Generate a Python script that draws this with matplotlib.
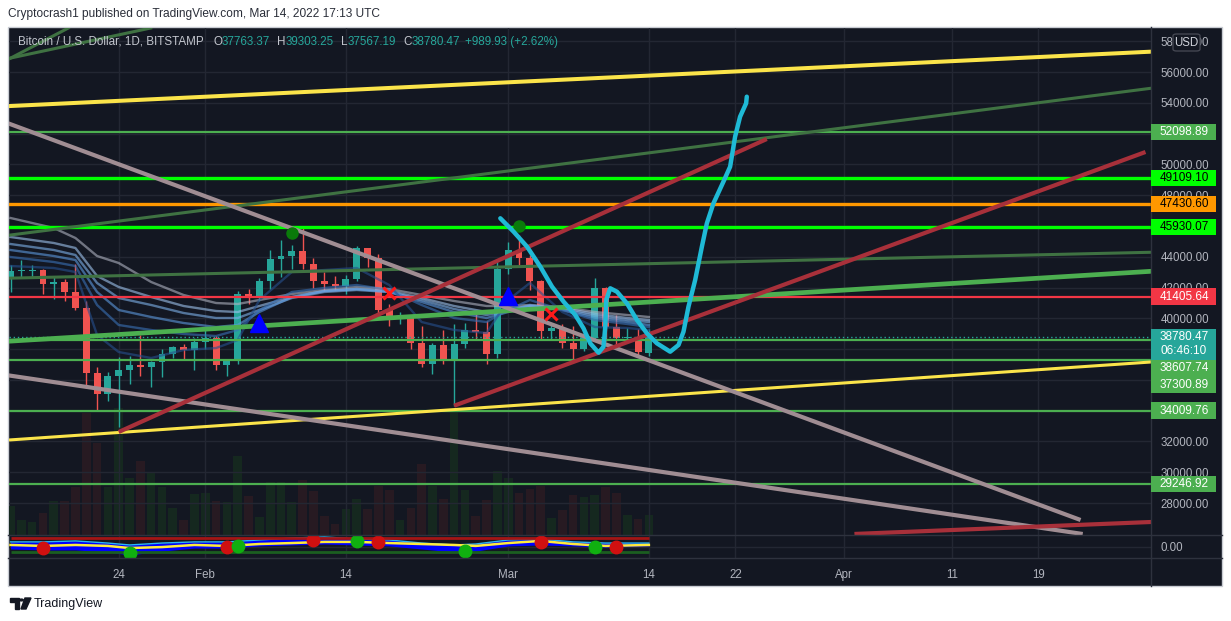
import numpy as np
import matplotlib
matplotlib.use('Agg')
import matplotlib.pyplot as plt
from matplotlib.patches import Rectangle, FancyBboxPatch, Polygon, Circle
from matplotlib.lines import Line2D

plt.rcParams['font.family'] = ['Liberation Sans', 'DejaVu Sans']

W, H = 1231, 621
BG = '#131722'
GRID = '#232733'
AXIS_TXT = '#b2b5be'
UP = '#26a69a'
DOWN = '#ef5350'

BASE = np.datetime64('2022-01-24')

# daily candles BTC/USD (Bitstamp), starting Jan 14 2022
candle_start = '2022-01-14'
opens = [42560, 43080, 43090, 43110, 42250, 42370, 41680, 40690, 36460, 35070,
         36270, 36660, 36950, 36820, 37170, 37710, 38160, 37920, 38480, 38740,
         36950, 37310, 41570, 41380, 42410, 43840, 44040, 44400, 43540, 42400,
         42200, 42070, 42550, 44560, 43900, 40540, 40010, 40100, 38400, 37020,
         38270, 37270, 38330, 39220, 39120, 37700, 43180, 44420, 43920, 42450,
         39150, 39400, 38420, 37990, 38740, 41960, 39440, 38730, 38810, 37763.37]
highs = [43450, 43780, 43480, 43180, 42690, 42580, 43500, 41100, 36830, 36480,
         37500, 37550, 38930, 37220, 38000, 38200, 38350, 38720, 39240, 38840,
         37380, 41770, 41920, 42640, 44440, 45100, 44750, 45850, 43920, 43000,
         42740, 42800, 44700, 44560, 44200, 40960, 40440, 40130, 39470, 38420,
         39250, 39650, 39700, 40290, 39850, 43800, 44950, 45400, 44100, 42520,
         39600, 39650, 39520, 39360, 42600, 42050, 40230, 39340, 39290, 39303.25]
lows = [41720, 42600, 42700, 41550, 41260, 41140, 40570, 35440, 34010, 34620,
        32950, 35700, 36230, 35510, 36160, 37400, 37380, 36630, 38000, 36620,
        36260, 37050, 40950, 41140, 41930, 42700, 43180, 43220, 42000, 41750,
        41860, 41600, 42430, 43340, 40130, 39480, 39650, 38000, 36810, 36380,
        37060, 34320, 38040, 38580, 37020, 37450, 42850, 43340, 41840, 38600,
        38580, 38100, 37160, 37880, 38660, 38540, 38260, 38660, 37610, 37567.19]
closes = [43080, 43170, 43110, 42250, 42370, 41680, 40690, 36460, 35070, 36270,
          36660, 36950, 36820, 37170, 37710, 38160, 37920, 38480, 38740, 36950,
          37310, 41570, 41380, 42410, 43840, 44040, 44400, 43540, 42400, 42200,
          42070, 42550, 44560, 43900, 40540, 40010, 40100, 38400, 37020, 38270,
          37270, 38330, 39220, 39120, 37700, 43180, 44420, 43920, 42450, 39150,
          39400, 38420, 37990, 38740, 41960, 39440, 38730, 38810, 37790, 38780.47]
volumes = [2900, 1500, 1300, 2200, 3400, 3400, 4800, 12200, 9200, 4800,
           12700, 5700, 7400, 6300, 4800, 2700, 1500, 4100, 4200, 3400,
           3300, 7900, 3900, 1800, 5300, 5300, 3300, 5500, 4400, 1900,
           1100, 2600, 3600, 2600, 4900, 4500, 1500, 2700, 7100, 4900,
           3600, 12300, 4500, 1900, 3500, 6400, 5700, 4200, 4600, 4900,
           1700, 2500, 4000, 3800, 4000, 4800, 4200, 2000, 1600, 2000]

# moving-average ribbon, days relative to Jan 24
ribbon_days = [-10, -6, -4, -2, 0, 3, 6, 9, 11, 13, 16, 19, 22, 25, 28, 31, 34, 36, 38, 41, 44, 47, 49]
ema_1 = [46516, 45866, 45216, 44047, 43592, 42358, 41513, 40993, 40928, 41188, 41578, 41838,
         42033, 41903, 41513, 41123, 40799, 40799, 40864, 40734, 40409, 40214, 40084]
ema_2 = [45281, 44892, 44567, 42748, 42033, 41383, 40799, 40474, 40409, 40799, 41383, 41773,
         41903, 41773, 41318, 40799, 40409, 40604, 40799, 40669, 40279, 40019, 39889]
ema_3 = [44827, 44437, 44112, 42293, 41318, 40864, 40344, 40019, 40019, 40539, 41318, 41708,
         41838, 41708, 41188, 40604, 40214, 40474, 40799, 40604, 40149, 39889, 39759]
ema_4 = [44437, 44047, 43787, 41708, 40539, 40084, 39694, 39435, 39565, 40409, 41383, 41773,
         41903, 41708, 41058, 40409, 40019, 40409, 40864, 40539, 40019, 39759, 39565]
ema_5 = [43982, 43657, 43397, 40864, 39565, 39240, 38980, 38850, 39240, 40539, 41708, 41968,
         42163, 41838, 40864, 40019, 39759, 40539, 41188, 40539, 39889, 39629, 39435]
ema_6 = [43397, 43267, 43008, 38915, 37810, 37420, 37940, 38070, 38590, 41188, 43008, 43137,
         43267, 42163, 39759, 39240, 39045, 41188, 42293, 40409, 39435, 39370, 39240]

# horizontal levels
levels = [52098.89, 49109.10, 47430.60, 45930.07, 41405.64, 38607.74, 37300.89, 34009.76, 29246.92]
level_colors = ['#4caf50', '#00ff00', '#ff9800', '#00ff00', '#f23645', '#4caf50', '#4caf50', '#4caf50', '#4caf50']
level_text = ['white', 'black', 'black', 'black', 'white', 'white', 'white', 'white', 'white']
level_widths = [1.6, 2.4, 2.4, 2.4, 1.6, 1.6, 1.6, 1.6, 1.6]
countdown = '06:46:10'

# trend lines: (day, price) anchor pairs
rays = {  # extended both ways
    'yellow_top': [(0, 54126), (90, 57140)],
    'green_dim_top': [(0, 46315), (90, 54455)],
    'green_a': [(-9.97, 56911), (-5.36, 58600)],
    'green_b': [(-9.97, 56911), (1.11, 58580)],
    'green_thick': [(0, 38948), (90, 42820)],
    'green_dim_mid': [(0, 42768), (90, 44203)],
    'yellow_low': [(0, 32581), (90, 36901)],
}
segments = {
    'gray_top': [(-14, 53649), (88.9, 26897)],
    'gray_low': [(-14, 36687), (89.1, 25987)],
    'red_1': [(0, 32613), (59.9, 51648)],
    'red_2': [(31, 34320), (94.9, 50804)],
    'red_3': [(68, 25990), (100, 26897)],
}

# hand drawn projection
curve_days = [35.27, 36.50, 37.74, 38.97, 40.05, 41.12, 42.20, 42.96, 43.58, 44.35, 44.81,
              44.97, 45.06, 45.43, 46.05, 46.97, 47.90, 48.82, 49.74, 50.97, 51.74, 52.20,
              52.66, 53.28, 53.90, 54.36, 54.97, 55.89, 56.51, 56.97, 57.43, 57.99, 58.05]
curve_prices = [46497, 45626, 44652, 43352, 42053, 41078, 40214, 39350, 38376, 37765, 38155,
                39454, 41189, 41949, 41728, 40974, 39890, 39025, 38376, 37830, 38265, 39129,
                40754, 42488, 44652, 46172, 47471, 48874, 49849, 51798, 53097, 53967, 54396]

# signals on the chart
tri_days = [13, 36]
tri_prices = [39695, 41449]
dot_days = [16, 37]
dot_prices = [45541, 45996]
cross_days = [25, 40]
cross_prices = [41663, 40279]

# oscillator pane
ind_days = [-10, -7, -4, -1, 1, 4, 7, 10, 13, 16, 19, 22, 25, 28, 31, 33, 36, 39, 42, 45, 49]
wave_top = [24, 24, 29, 18, 8, 18, 24, 24, 34, 44, 50, 39, 34, 18, 8, 13, 34, 39, 24, 18, 18]
wave_bot = [-13, -18, -18, -29, -44, -24, -8, -8, 3, 8, 13, 8, 3, -13, -29, -24, 3, 8, 3, -3, 3]
signal = [8, 3, 8, 3, -8, -3, 8, 3, 13, 18, 24, 24, 18, 13, 8, 3, 18, 29, 13, 3, 8]
ob_level, os_level = 46, -27
red_dot_days = [-7, 10, 18, 24, 39, 46]
red_dot_vals = [-8, -3, 34, 23, 23, -3]
green_dot_days = [1, 11, 22, 32, 44]
green_dot_vals = [-36, 3, 29, -23, -3]

tick_dates = ['2022-01-24', '2022-02-01', '2022-02-14', '2022-03-01', '2022-03-14',
              '2022-03-22', '2022-04-01', '2022-04-11', '2022-04-19']
tick_labels = ['24', 'Feb', '14', 'Mar', '14', '22', 'Apr', '11', '19']
price_ticks = np.arange(28000, 58001, 2000)


def day_of(s):
    return float((np.datetime64(s) - BASE) / np.timedelta64(1, 'D'))


def fx(px):
    return px / W


def fy(py):
    return 1 - py / H


fig = plt.figure(figsize=(W / 100, H / 100), dpi=100, facecolor='white')
fig.patches.append(Rectangle((fx(8), fy(586)), fx(1222) - fx(8), fy(27) - fy(586),
                             transform=fig.transFigure, facecolor=BG, edgecolor='#c9ccd3',
                             lw=1, zorder=-5))

pane = [fx(9), fy(535), fx(1151) - fx(9), fy(28) - fy(535)]
ax_v = fig.add_axes(pane, zorder=0)
ax = fig.add_axes(pane, zorder=1)
ax_i = fig.add_axes([fx(9), fy(558), fx(1151) - fx(9), fy(535) - fy(558)], zorder=1)
for a in (ax_v, ax, ax_i):
    a.set_facecolor('none')
    for s in a.spines.values():
        s.set_visible(False)

xlim = (-10.14, 95.41)
cdays = day_of(candle_start) + np.arange(len(opens))
tdays = [day_of(t) for t in tick_dates]

# volume
ax_v.set_xlim(xlim)
ax_v.set_ylim(0, 50700)
vcol = ['#15281f' if c >= o else '#271a22' for o, c in zip(opens, closes)]
ax_v.bar(cdays, volumes, width=0.8, color=vcol)
ax_v.set_xticks([])
ax_v.set_yticks([])

# price pane
ax.set_xlim(xlim)
ax.set_ylim(25922, 58859)

# price tags on the scale, stacked when they collide
entries = [(p, c, t, [f'{p:.2f}']) for p, c, t in zip(levels, level_colors, level_text)]
entries.append((closes[-1], UP, 'white', [f'{closes[-1]:.2f}', countdown]))
entries.sort(key=lambda e: -e[0])
tags = []
prev_bottom = 0
for p, bg, fg, lines in entries:
    py = H - ax.transData.transform((0, p))[1]
    hgt = 16.7 if len(lines) == 1 else 31
    top = max(py - 8.3, prev_bottom)
    prev_bottom = top + hgt
    tags.append((top, hgt, bg, fg, lines))


def covered(v):
    py = H - ax.transData.transform((0, v))[1]
    return any(t <= py <= t + h for t, h, *_ in tags)


ax.set_xticks(tdays)
ax.set_yticks(price_ticks, labels=['' if covered(v) else f'{v:.2f}' for v in price_ticks])
ax.yaxis.tick_right()
ax.tick_params(axis='x', length=0, labelbottom=False)
ax.tick_params(axis='y', length=0, pad=7, labelcolor=AXIS_TXT, labelsize=8.3)
ax.grid(True, color=GRID, lw=1, zorder=0)
ax.set_axisbelow(True)

# candles
for d, o, h, l, c in zip(cdays, opens, highs, lows, closes):
    col = UP if c >= o else DOWN
    ax.vlines(d, l, h, color=col, lw=1, zorder=3)
    ax.bar(d, max(abs(c - o), 45), bottom=min(o, c), width=0.64, color=col, zorder=3)

# ribbon
ribbon_cols = ['#b0b4c2', '#9fc4ee', '#7fb3ec', '#5d9ae0', '#3a72b8', '#26508f']
for vals, col in zip([ema_1, ema_2, ema_3, ema_4, ema_5, ema_6], ribbon_cols):
    ax.plot(ribbon_days, vals, color=col, lw=1.7, alpha=0.6, zorder=3.5)

# levels
for p, col, lw in zip(levels, level_colors, level_widths):
    ax.axhline(p, color=col, lw=lw, zorder=4)
ax.axhline(closes[-1], color=UP, lw=1, ls=(0, (1, 2)), zorder=4)

# trend lines
ray_style = {
    'yellow_top': ('#fbe44a', 2.9),
    'green_dim_top': ('#3f7242', 2.2),
    'green_a': ('#3f7242', 2.2),
    'green_b': ('#3f7242', 2.2),
    'green_thick': ('#4caf50', 3.4),
    'green_dim_mid': ('#3f7242', 2.2),
    'yellow_low': ('#fbe44a', 2.2),
}
for k, pts in rays.items():
    col, lw = ray_style[k]
    ax.axline(pts[0], pts[1], color=col, lw=lw, zorder=4)
seg_color = {'gray_top': '#a08d93', 'gray_low': '#a08d93',
             'red_1': '#a8303a', 'red_2': '#a8303a', 'red_3': '#a8303a'}
for k, pts in segments.items():
    ax.plot([pts[0][0], pts[1][0]], [pts[0][1], pts[1][1]], color=seg_color[k], lw=3.0,
            solid_capstyle='butt', zorder=4)

# signals
ax.plot(tri_days, tri_prices, '^', color='#0000ff', ms=13, zorder=5)
ax.plot(dot_days, dot_prices, 'o', color='#0a7a0a', ms=8, zorder=5)
ax.plot(cross_days, cross_prices, 'x', color='#ff1a1a', ms=8, mew=2.2, zorder=5)

# projection
ax.plot(curve_days, curve_prices, color='#1fbad6', lw=3.2, solid_capstyle='round',
        solid_joinstyle='round', zorder=6)

# oscillator
ax_i.set_xlim(xlim)
ax_i.set_ylim(-60, 60)
ax_i.fill_between(ind_days, wave_bot, wave_top, color='#0000ff', lw=0, zorder=2)
ax_i.plot(ind_days, wave_top, color='#29b6f6', lw=1, zorder=3)
ax_i.plot(ind_days, signal, color='#ffeb3b', lw=1.8, zorder=3)
ax_i.hlines([ob_level], cdays[0], cdays[-1], color='#a31515', lw=2, zorder=3)
ax_i.hlines([os_level], cdays[0], cdays[-1], color='#1b5e20', lw=2, zorder=3)
ax_i.plot(red_dot_days, red_dot_vals, 'o', color='#d01010', ms=9, zorder=4)
ax_i.plot(green_dot_days, green_dot_vals, 'o', color='#10b010', ms=9, zorder=4)
ax_i.set_xticks(tdays)
ax_i.set_xticklabels(tick_labels)
ax_i.set_yticks([0])
ax_i.yaxis.tick_right()
ax_i.set_yticklabels(['0.00'])
ax_i.tick_params(axis='x', length=0, pad=8, labelcolor=AXIS_TXT, labelsize=8.3)
ax_i.tick_params(axis='y', length=0, pad=7, labelcolor=AXIS_TXT, labelsize=8.3)
ax_i.grid(True, color=GRID, lw=1, zorder=0)
ax_i.set_axisbelow(True)

# frame lines
for seg in [((1151, 1151), (27, 586)), ((8, 1222), (535, 535)), ((8, 1222), (558, 558))]:
    fig.lines.append(Line2D([fx(v) for v in seg[0]], [fy(v) for v in seg[1]],
                            transform=fig.transFigure, color='#2e323e', lw=1, zorder=2))

for top, hgt, bg, fg, lines in tags:
    fig.patches.append(Rectangle((fx(1151), fy(top + hgt)), fx(65), hgt / H,
                                 transform=fig.transFigure, facecolor=bg, lw=0, zorder=3))
    for i, s in enumerate(lines):
        fig.text(fx(1184), fy(top + 8.3 + i * 14.2), s, color=fg, fontsize=8.5,
                 ha='center', va='center', zorder=4)

fig.patches.append(FancyBboxPatch((fx(1173), fy(51)), fx(27), 17 / H,
                                  boxstyle='round,pad=0,rounding_size=0.003',
                                  transform=fig.transFigure, facecolor=BG,
                                  edgecolor='#434651', lw=1, zorder=3))
fig.text(fx(1186.5), fy(42.5), 'USD', color='#d1d4dc', fontsize=8.3, ha='center',
         va='center', zorder=4)

# headers
fig.text(fx(8), fy(14), 'Cryptocrash1 published on TradingView.com, Mar 14, 2022 17:13 UTC',
         color='#2a2e39', fontsize=8.6, va='center')
fig.text(fx(18), fy(42), 'Bitcoin / U.S. Dollar, 1D, BITSTAMP', color='#c3c6ce',
         fontsize=8.4, va='center', zorder=4)
ohlc = [('O', '37763.37', 213), ('H', '39303.25', 277), ('L', '37567.19', 341),
        ('C', '38780.47', 403)]
for letter, val, x in ohlc:
    t = fig.text(fx(x), fy(42), letter, color='#c3c6ce', fontsize=8.4, va='center', zorder=4)
    ax.annotate(val, xy=(1, 0.5), xycoords=t, va='center', color=UP, fontsize=8.4,
                annotation_clip=False, zorder=6)
fig.text(fx(465), fy(42), '+989.93 (+2.62%)', color=UP, fontsize=8.4, va='center', zorder=4)

# footer logo
logo = '#131722'
fig.patches.append(Polygon([(fx(10), fy(598)), (fx(19), fy(598)), (fx(19), fy(609)),
                            (fx(15), fy(609)), (fx(15), fy(602)), (fx(10), fy(602))],
                           closed=True, transform=fig.transFigure, color=logo))
fig.patches.append(Circle((fx(21.5), fy(600)), 1.8 / W, transform=fig.transFigure, color=logo))
fig.patches.append(Polygon([(fx(25), fy(598)), (fx(31), fy(598)), (fx(26), fy(609)),
                            (fx(21), fy(609))], closed=True, transform=fig.transFigure,
                           color=logo))
fig.text(fx(34), fy(603.5), 'TradingView', color='#131722', fontsize=9, va='center')

fig.savefig('out.png', dpi=100, facecolor='white')
